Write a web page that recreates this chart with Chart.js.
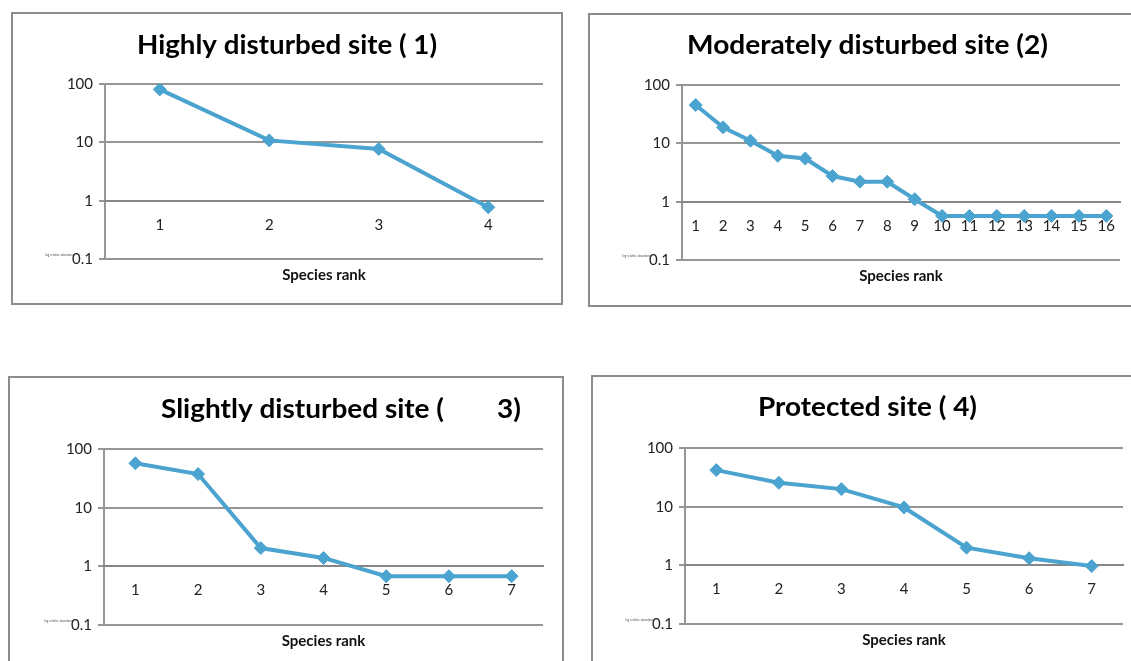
<!DOCTYPE html>
<html><head><meta charset="utf-8">
<script src="https://cdn.jsdelivr.net/npm/chart.js@4.4.0/dist/chart.umd.min.js"></script>
<style>
html,body{margin:0;padding:0;background:#fff;width:1131px;height:661px;overflow:hidden;position:relative}
.box{position:absolute;border:2px solid #8c8c8c;box-sizing:border-box}
canvas{position:absolute}
</style></head><body>
<script>
// ---- data ----
const siteTitles = [
  ['Highly disturbed site ( 1)'],
  ['Moderately disturbed site (2)'],
  ['Slightly disturbed site (', '3)'],
  ['Protected site ( 4)']
];
const xTitle = 'Species rank';
const yNote = 'log relative abundance';
const yTicks = [0.1, 1, 10, 100];

const ranks1 = ['1', '2', '3', '4'];
const abundance1 = [80.8, 10.8, 7.7, 0.77];

const ranks2 = ['1','2','3','4','5','6','7','8','9','10','11','12','13','14','15','16'];
const abundance2 = [45.4, 18.8, 11.1, 6.1, 5.5, 2.75, 2.2, 2.2, 1.1, 0.57, 0.57, 0.57, 0.57, 0.57, 0.57, 0.57];

const ranks3 = ['1','2','3','4','5','6','7'];
const abundance3 = [57, 37.4, 2.05, 1.39, 0.68, 0.68, 0.68];

const ranks4 = ['1','2','3','4','5','6','7'];
const abundance4 = [42, 25.5, 19.9, 9.7, 2.0, 1.32, 0.97];

const allRanks = [ranks1, ranks2, ranks3, ranks4];
const allValues = [abundance1, abundance2, abundance3, abundance4];

// ---- layout (page pixels) ----
const panels = [
  {box:[11,12,552,293],  area:[105,84,543,259],  tx:[137], tw:300, base:54},
  {box:[588,13,560,294], area:[682,85,1120,260], tx:[687], tw:361, base:54},
  {box:[8,376,556,300],  area:[104,449,543,625], tx:[161,497], tw:283, base:418},
  {box:[591,375,560,300],area:[685,448,1123,624],tx:[758], tw:219, base:416}
];
const FONT = 'Lato, "Open Sans", sans-serif';
const LINE = '#4ba3cf';
const GRID = '#969696';
const YW = 60;

panels.forEach((p, i) => {
  const [L, T, W, H] = p.box;
  const div = document.createElement('div');
  div.className = 'box';
  div.style.cssText = `left:${L}px;top:${T}px;width:${W}px;height:${H}px`;
  document.body.appendChild(div);
  const cv = document.createElement('canvas');
  cv.width = W; cv.height = H;
  cv.style.cssText = `left:${L}px;top:${T}px;width:${W}px;height:${H}px`;
  document.body.appendChild(cv);

  const [al, at, ar, ab] = p.area;
  const padding = {left: al - L - YW, top: at - T, right: (L + W) - ar, bottom: (T + H) - ab};

  const textPlugin = {
    id: 'texts' + i,
    afterDraw(chart) {
      const ctx = chart.ctx, ca = chart.chartArea;
      ctx.save();
      // title fitted to the reference width
      const parts = siteTitles[i];
      ctx.font = `bold 27px ${FONT}`;
      const w0 = ctx.measureText(parts[0]).width;
      const sx = p.tw / w0;
      ctx.fillStyle = '#000';
      ctx.textBaseline = 'alphabetic';
      ctx.textAlign = 'left';
      parts.forEach((t, k) => {
        ctx.save();
        ctx.translate(p.tx[k] - L, p.base - T);
        ctx.scale(sx, 1);
        ctx.fillText(t, 0, 0);
        ctx.restore();
      });
      // x title
      ctx.font = `bold 15px ${FONT}`;
      ctx.textAlign = 'center';
      ctx.textBaseline = 'middle';
      ctx.fillStyle = '#111';
      ctx.fillText(xTitle, (ca.left + ca.right) / 2, ca.bottom + 16);
      // tiny axis note
      ctx.font = `3px ${FONT}`;
      ctx.textAlign = 'right';
      ctx.fillStyle = '#555';
      ctx.fillText(yNote, ca.left - 30, ca.bottom - 4);
      ctx.restore();
    }
  };

  new Chart(cv, {
    type: 'line',
    data: {
      labels: allRanks[i],
      datasets: [{
        data: allValues[i],
        borderColor: LINE,
        backgroundColor: LINE,
        borderWidth: 4,
        pointStyle: 'rectRot',
        pointRadius: 6.5,
        pointBorderWidth: 1,
        pointBackgroundColor: LINE,
        pointBorderColor: LINE,
        tension: 0,
        fill: false
      }]
    },
    options: {
      responsive: false,
      animation: false,
      devicePixelRatio: 1,
      layout: {padding},
      plugins: {legend: {display: false}, title: {display: false}, tooltip: {enabled: false}},
      scales: {
        y: {
          type: 'logarithmic',
          min: 0.1, max: 100,
          afterBuildTicks: s => { s.ticks = yTicks.map(v => ({value: v})); },
          afterFit: s => { s.width = YW; },
          ticks: {
            font: {family: FONT, size: 15},
            color: '#222',
            padding: 6,
            callback: v => yTicks.includes(v) ? String(v) : ''
          },
          grid: {color: GRID, lineWidth: 2, tickLength: 6, drawTicks: true},
          border: {color: GRID, width: 2}
        },
        x: {
          type: 'category',
          position: {y: 1},
          offset: true,
          grid: {display: false, drawTicks: false, tickLength: 0},
          border: {display: true, color: '#868686', width: 2},
          ticks: {
            font: {family: FONT, size: 15},
            color: '#222',
            padding: 15,
            maxRotation: 0,
            autoSkip: false
          }
        }
      }
    },
    plugins: [textPlugin]
  });
});
</script>
</body></html>
